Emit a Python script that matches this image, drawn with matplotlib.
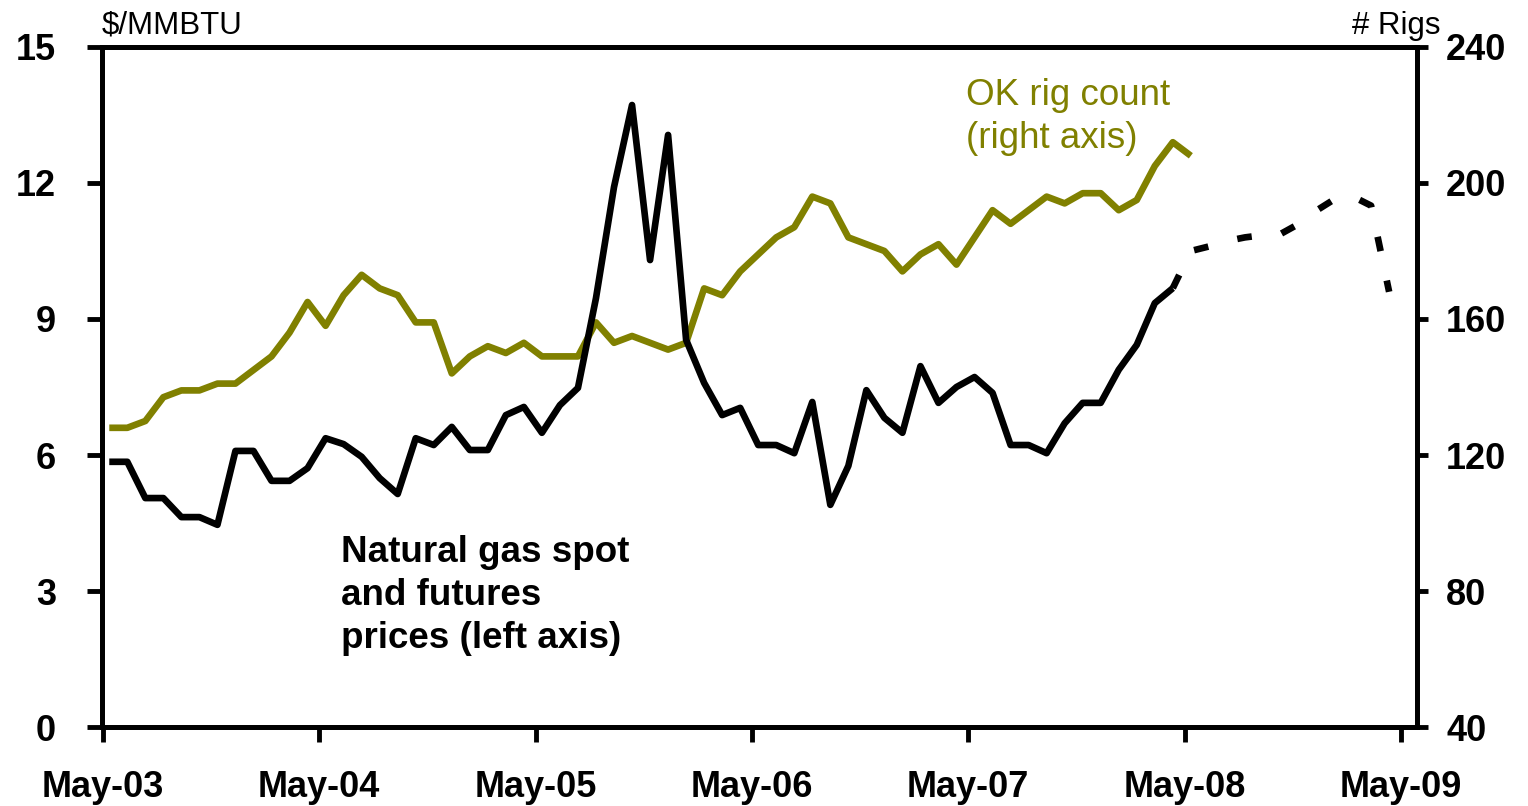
import matplotlib
matplotlib.use("Agg")
import matplotlib.pyplot as plt

plt.rcParams['font.family'] = ['Liberation Sans', 'DejaVu Sans']

# monthly data, month 0 = May-03
gas_spot = [5.85, 5.85, 5.05, 5.05, 4.63, 4.63, 4.46, 6.09, 6.09, 5.43,
            5.43, 5.71, 6.37, 6.24, 5.96, 5.49, 5.14, 6.37, 6.22, 6.62,
            6.11, 6.11, 6.88, 7.06, 6.49, 7.10, 7.48, 9.46, 11.91, 13.72,
            10.30, 13.06, 8.54, 7.59, 6.88, 7.04, 6.22, 6.22, 6.04, 7.17,
            4.90, 5.76, 7.43, 6.82, 6.49, 7.96, 7.15, 7.50, 7.72, 7.37,
            6.22, 6.22, 6.04, 6.70, 7.15, 7.15, 7.88, 8.43, 9.35, 9.68]
gas_futures = [9.68, 10.50, 10.60, 10.72, 10.80, 10.85, 10.88, 11.10,
               11.40, 11.65, 11.70, 11.50, 9.60]
rig_count = [128, 128, 130, 137, 139, 139, 141, 141, 145, 149,
             156, 165, 158, 167, 173, 169, 167, 159, 159, 144,
             149, 152, 150, 153, 149, 149, 149, 159, 153, 155,
             153, 151, 153, 169, 167, 174, 179, 184, 187, 196,
             194, 184, 182, 180, 174, 179, 182, 176, 184, 192,
             188, 192, 196, 194, 197, 197, 192, 195, 205, 212, 208]
tick_labels = ['May-03', 'May-04', 'May-05', 'May-06', 'May-07', 'May-08', 'May-09']

off = 0.35
x_spot = [i + off for i in range(len(gas_spot))]
x_fut = [len(gas_spot) - 1 + i + off for i in range(len(gas_futures))]
x_rig = [i + off for i in range(len(rig_count))]

olive = '#808000'

fig = plt.figure(figsize=(15.28, 8.06), dpi=100)
ax = fig.add_axes([0.0668, 0.098, 0.8606, 0.8437])
ax2 = ax.twinx()

ax2.plot(x_rig, rig_count, color=olive, lw=4.8, solid_capstyle='butt', zorder=2)
ax.plot(x_spot, gas_spot, color='black', lw=4.8, solid_capstyle='butt', zorder=3)
ax.plot(x_fut, gas_futures, color='black', lw=4.8, ls=(0, (2.2, 4.5)),
        dash_capstyle='butt', zorder=3)

ax.set_zorder(ax2.get_zorder() + 1)
ax.patch.set_visible(False)

ax.set_xlim(-0.05, 72.9)
ax.set_ylim(0, 15)
ax2.set_ylim(40, 240)
ax.set_yticks([0, 3, 6, 9, 12, 15])
ax2.set_yticks([40, 80, 120, 160, 200, 240])
ax.set_xticks(range(0, 73, 12))
ax.set_xticklabels(tick_labels)

for a in (ax, ax2):
    for s in a.spines.values():
        s.set_linewidth(3.5)
ax.tick_params(axis='x', direction='out', length=11, width=3.5, pad=20,
               labelsize=26)
ax.tick_params(axis='y', direction='out', length=11, width=3.5, pad=22,
               labelsize=26)
ax2.tick_params(axis='y', direction='out', length=8, width=3.5, pad=13,
                labelsize=26)
for lbl in ax.get_xticklabels() + ax.get_yticklabels() + ax2.get_yticklabels():
    lbl.set_fontweight('bold')

fig.text(0.0668, 0.958, '$/MMBTU', fontsize=22.5, ha='left', va='baseline')
fig.text(0.943, 0.958, '# Rigs', fontsize=22.5, ha='right', va='baseline')

ax.text(0.657, 0.955, 'OK rig count\n(right axis)', transform=ax.transAxes,
        color=olive, fontsize=26.5, ha='left', va='top', linespacing=1.3)
ax.text(0.182, 0.282, 'Natural gas spot\nand futures\nprices (left axis)',
        transform=ax.transAxes, color='black', fontsize=26.5, fontweight='bold',
        ha='left', va='top', linespacing=1.3)

fig.savefig('out.png', dpi=100)
